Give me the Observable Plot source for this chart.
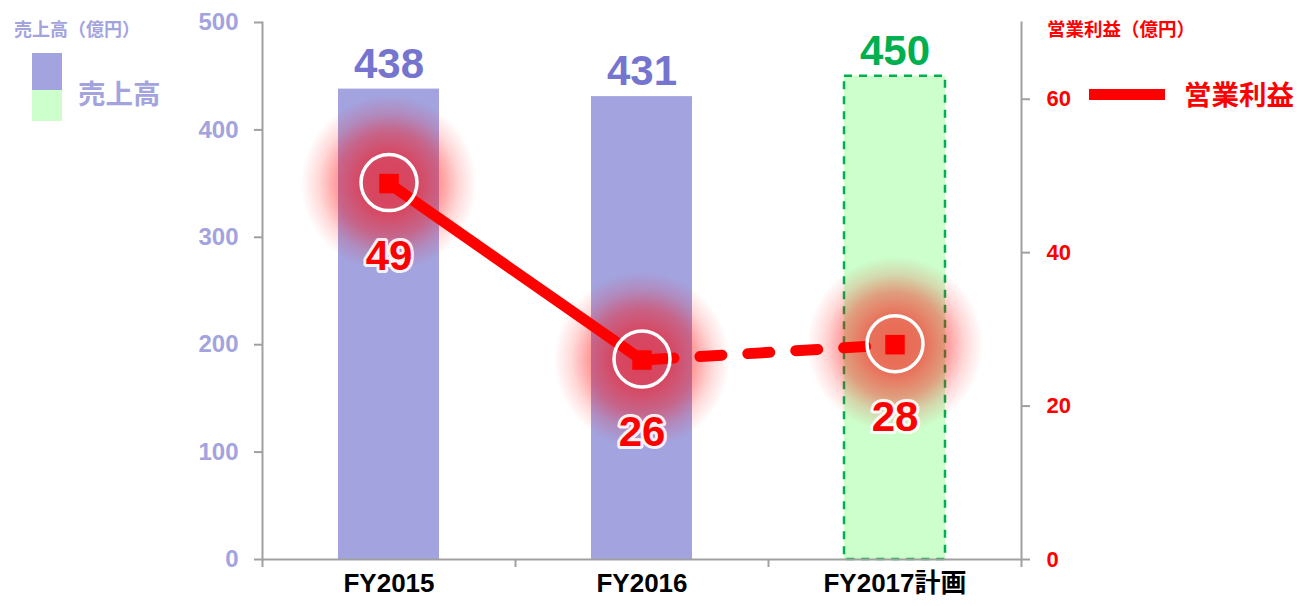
<!DOCTYPE html>
<html>
<head>
<meta charset="utf-8">
<script src="https://cdn.jsdelivr.net/npm/d3@7"></script>
<script src="https://cdn.jsdelivr.net/npm/@observablehq/plot@0.6"></script>
<style>
  body { margin: 0; background: #fff; }
  #wrap { position: relative; width: 1297px; height: 606px; font-family: "Liberation Sans", Arial, "Noto Sans CJK JP", sans-serif; }
  .lg { position: absolute; font-weight: bold; white-space: nowrap; font-family: "Noto Sans CJK JP", sans-serif; line-height: 1; }
  .sw { position: absolute; }
</style>
</head>
<body>
<div id="wrap"></div>
<script>
const categories = ["FY2015", "FY2016", "FY2017計画"];
const salesValues = [438, 431, 450];
const profitValues = [49, 26, 28];
const salesTicks = [0, 100, 200, 300, 400, 500];
const profitTicks = [0, 20, 40, 60];
const planFlags = [false, false, true];

const salesMax = 500, profitMax = 70;
const K = salesMax / profitMax;

const purple = "#a3a3df";
const purpleText = "#7575cf";
const purpleAxis = "#a3a3e0";
const green = "#ccffcc";
const greenStroke = "#00b050";
const red = "#ff0000";

const sales = categories.map((c, i) => ({cat: c, v: salesValues[i], plan: planFlags[i]}));
const profit = categories.map((c, i) => ({cat: c, v: profitValues[i], y: profitValues[i] * K}));

const W = 1297, H = 606, mL = 262, mR = 276, mT = 22, mB = 47;
const step = (W - mL - mR) / 3;

const plot = Plot.plot({
  width: W, height: H,
  marginLeft: mL, marginRight: mR, marginTop: mT, marginBottom: mB,
  style: {fontFamily: "'Liberation Sans', Arial, 'Noto Sans CJK JP', sans-serif", background: "transparent", overflow: "visible"},
  x: {domain: categories, paddingInner: 0.6, paddingOuter: 0.3, axis: null},
  y: {domain: [0, salesMax], axis: null},
  marks: [
    Plot.barY(sales.filter(d => !d.plan), {x: "cat", y: "v", fill: purple}),
    Plot.barY(sales.filter(d => d.plan), {x: "cat", y: "v", fill: green, stroke: greenStroke, strokeWidth: 2.5, strokeDasharray: "8,7"}),
    Plot.frame({anchor: "left", stroke: "#a0a0a0", strokeWidth: 2}),
    Plot.frame({anchor: "right", stroke: "#a0a0a0", strokeWidth: 2}),
    Plot.ruleY([0], {stroke: "#a0a0a0", strokeWidth: 2}),
    Plot.ruleX(categories, {x: d => d, y1: 0, y2: 0, insetBottom: -8, dx: -step / 2, stroke: "#a0a0a0", strokeWidth: 2}),
    Plot.ruleX(categories.slice(-1), {x: d => d, y1: 0, y2: 0, insetBottom: -8, dx: step / 2, stroke: "#a0a0a0", strokeWidth: 2}),
    Plot.axisY(salesTicks, {anchor: "left", tickSize: 8, tickPadding: 16, stroke: "#a0a0a0", strokeWidth: 2, fill: purpleAxis, fontSize: 24, fontWeight: "bold", label: null}),
    Plot.axisY(profitTicks.map(t => t * K), {anchor: "right", tickSize: 8, tickPadding: 17, stroke: "#a0a0a0", strokeWidth: 2, fill: red, fontSize: 22, fontWeight: "bold", tickFormat: d => String(Math.round(d / K)), label: null}),
    Plot.text(categories, {x: d => d, frameAnchor: "bottom", dy: 32, fill: "#000", fontSize: 26, fontWeight: "bold", letterSpacing: 0.8}),
    Plot.text(sales, {x: "cat", y: "v", text: d => String(d.v), dy: -25, fill: d => d.plan ? greenStroke : purpleText, fontSize: 42, fontWeight: "bold", letterSpacing: 2}),
    Plot.dot(profit, {x: "cat", y: "y", r: 88, fill: "url(#glowRed)", stroke: "none"}),
    Plot.line(profit.slice(0, 2), {x: "cat", y: "y", stroke: red, strokeWidth: 11}),
    Plot.line(profit.slice(1, 3), {x: "cat", y: "y", stroke: red, strokeWidth: 11, strokeDasharray: "22,26", strokeDashoffset: -10, strokeLinecap: "round"}),
    Plot.dot(profit, {x: "cat", y: "y", r: 28, stroke: "#fff", strokeWidth: 3.5, fill: "none", dy: -1}),
    Plot.dot(profit, {x: "cat", y: "y", symbol: "square", r: 11, fill: red, stroke: "none"}),
    Plot.text(profit, {x: "cat", y: "y", text: d => String(d.v), dy: 73, fill: red, stroke: "#fff", strokeWidth: 6, strokeOpacity: 0.9, fontSize: 42, fontWeight: "bold", letterSpacing: 1})
  ]
});

const svg = d3.select(plot);
const defs = svg.insert("defs", ":first-child");
const g = defs.append("radialGradient").attr("id", "glowRed");
[[0, 0.6], [0.35, 0.55], [0.6, 0.38], [0.8, 0.15], [1, 0]].forEach(([o, a]) =>
  g.append("stop").attr("offset", o).attr("stop-color", "#ff0000").attr("stop-opacity", a));

const wrap = document.getElementById("wrap");
wrap.appendChild(plot);
plot.style.position = "absolute";
plot.style.left = "0px";
plot.style.top = "0px";

function addText(txt, left, top, size, color) {
  const el = document.createElement("div");
  el.className = "lg";
  el.textContent = txt;
  el.style.left = left + "px";
  el.style.top = top + "px";
  el.style.fontSize = size + "px";
  el.style.color = color;
  wrap.appendChild(el);
}
function addBox(left, top, w, h, color) {
  const el = document.createElement("div");
  el.className = "sw";
  Object.assign(el.style, {left: left + "px", top: top + "px", width: w + "px", height: h + "px", background: color});
  wrap.appendChild(el);
}
addText("売上高（億円）", 14, 19, 18, purpleAxis);
addBox(32, 53, 30, 37, purple);
addBox(32, 90, 30, 31, green);
addText("売上高", 78, 79, 27.5, purpleAxis);
addText("営業利益（億円）", 1047, 19, 18.5, red);
addBox(1089, 89, 76, 11, red);
addText("営業利益", 1184, 80, 27.5, red);
</script>
</body>
</html>
